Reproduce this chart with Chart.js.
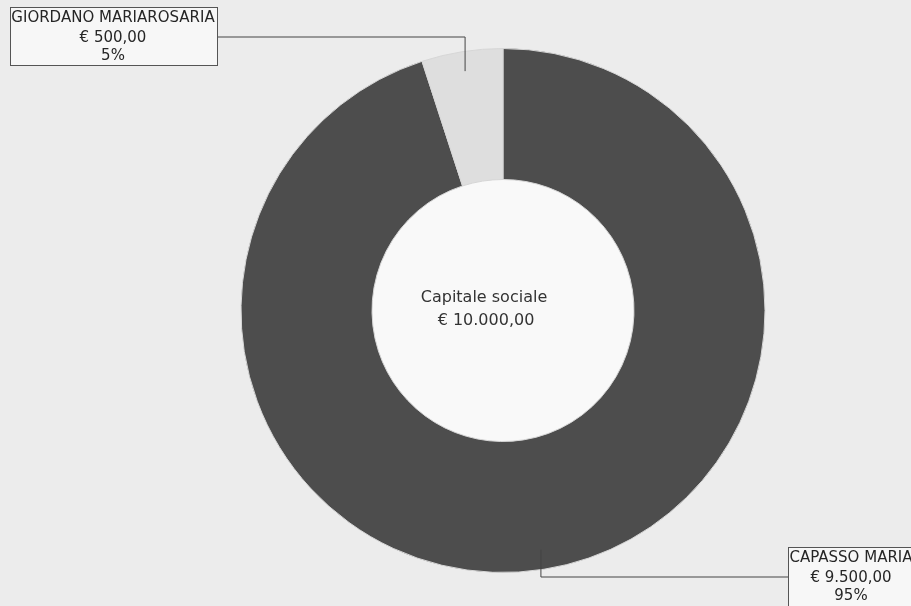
<!DOCTYPE html>
<html>
<head>
<meta charset="utf-8">
<script src="https://cdn.jsdelivr.net/npm/chart.js@4"></script>
<style>
    html, body { margin: 0; padding: 0; background: #ececec; }
    #wrap { width: 911px; height: 606px; position: relative; }
</style>
</head>
<body>
<div id="wrap"><canvas id="quoteChart"></canvas></div>
<script>
// ==================== DATA ====================
const soci = ['CAPASSO MARIA', 'GIORDANO MARIAROSARIA'];
const quote = [9500, 500];
const importi = ['€ 9.500,00', '€ 500,00'];
const percentuali = ['95%', '5%'];
const centerLines = ['Capitale sociale', '€ 10.000,00'];

const FONT = '"DejaVu Sans", Verdana, sans-serif';

// label boxes: where each callout sits
const boxes = [
    { x: 788, y: 547, w: 140, h: 62, lineY: 577, cx: 851 },
    { x: 10, y: 7, w: 207, h: 58, lineY: 37, cx: 113 }
];

// ==================== PLUGINS ====================
const holePlugin = {
    id: 'hole',
    beforeDatasetsDraw(chart) {
        const arc = chart.getDatasetMeta(0).data[0];
        if (!arc) return;
        const ctx = chart.ctx;
        ctx.save();
        ctx.fillStyle = '#f9f9f9';
        ctx.beginPath();
        ctx.arc(arc.x, arc.y, arc.innerRadius, 0, Math.PI * 2);
        ctx.fill();
        ctx.restore();
    }
};

const calloutPlugin = {
    id: 'callouts',
    afterDatasetsDraw(chart) {
        const ctx = chart.ctx;
        const meta = chart.getDatasetMeta(0);
        ctx.save();

        // center text
        const a0 = meta.data[0];
        ctx.fillStyle = '#333';
        ctx.textAlign = 'center';
        ctx.textBaseline = 'middle';
        ctx.font = '16px ' + FONT;
        ctx.fillText(centerLines[0], a0.x - 19, a0.y - 13);
        ctx.fillText(centerLines[1], a0.x - 17, a0.y + 10);

        meta.data.forEach((arc, i) => {
            const b = boxes[i];
            const mid = (arc.startAngle + arc.endAngle) / 2;
            const r = arc.innerRadius + 0.85 * (arc.outerRadius - arc.innerRadius);
            const px = arc.x + Math.cos(mid) * r;
            const py = arc.y + Math.sin(mid) * r;
            const edgeX = b.x < px ? b.x + b.w : b.x;

            // leader line
            ctx.strokeStyle = '#444';
            ctx.lineWidth = 1;
            ctx.beginPath();
            ctx.moveTo(px, py);
            ctx.lineTo(px, b.lineY);
            ctx.lineTo(edgeX, b.lineY);
            ctx.stroke();

            // box
            ctx.fillStyle = '#f7f7f7';
            ctx.fillRect(b.x, b.y, b.w, b.h);
            ctx.strokeStyle = '#555';
            ctx.strokeRect(b.x + 0.5, b.y + 0.5, b.w, b.h);

            // text
            ctx.fillStyle = '#262626';
            ctx.font = '15px ' + FONT;
            ctx.fillText(soci[i], b.cx, b.y + 11);
            ctx.fillText(importi[i], b.cx, b.y + 31);
            ctx.fillText(percentuali[i], b.cx, b.y + 49);
        });
        ctx.restore();
    }
};

// ==================== CHART ====================
function initChart() {
    new Chart(document.getElementById('quoteChart'), {
        type: 'doughnut',
        data: {
            labels: soci,
            datasets: [{
                data: quote,
                backgroundColor: ['#4d4d4d', '#dedede'],
                borderColor: '#d6d6d6',
                borderWidth: 1
            }]
        },
        options: {
            responsive: true,
            maintainAspectRatio: false,
            animation: false,
            cutout: '50%',
            layout: { padding: { top: 48, bottom: 33, left: 95, right: 0 } },
            plugins: {
                legend: { display: false },
                tooltip: { enabled: false }
            }
        },
        plugins: [holePlugin, calloutPlugin]
    });
}

initChart();
</script>
</body>
</html>
